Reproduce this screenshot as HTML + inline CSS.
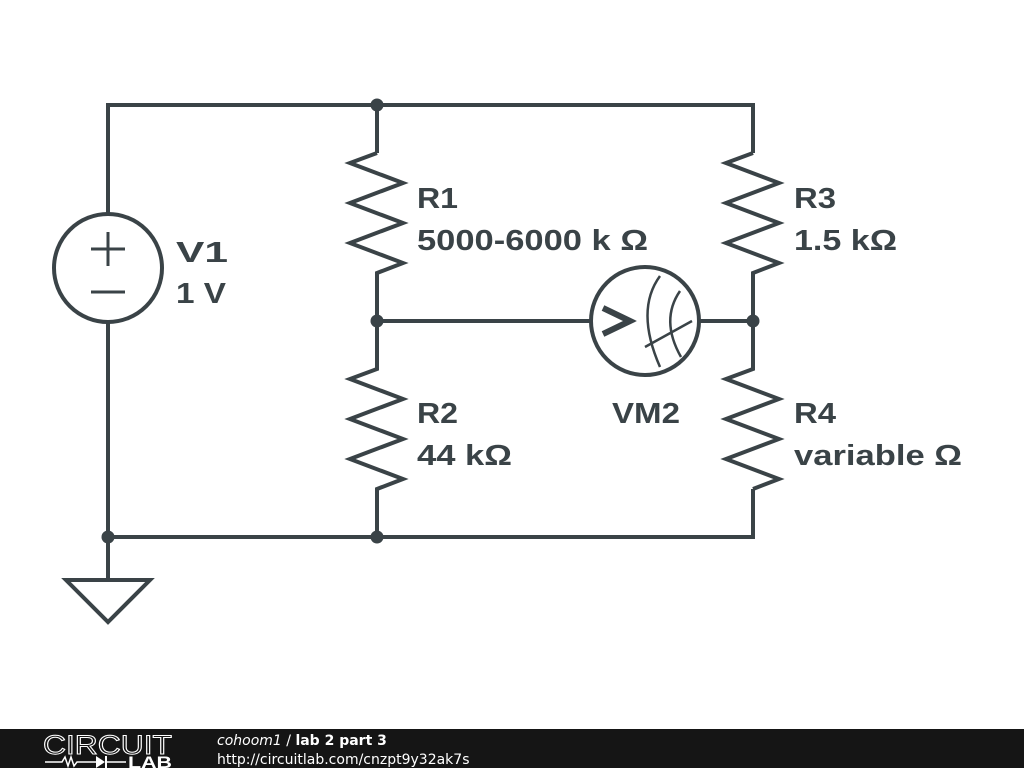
<!DOCTYPE html>
<html><head><style>
body{margin:0;background:#fff;}
svg{display:block;}
.t{font-family:"Liberation Sans",Arial,sans-serif;font-weight:bold;font-size:29px;fill:#3a4347;}
</style></head><body>
<svg width="1024" height="768" viewBox="0 0 1024 768">
<g stroke="#3a4347" stroke-width="4" fill="none" stroke-linejoin="miter">
<polyline points="108,214 108,105 753,105 753,153"/>
<polyline points="108,322 108,580"/>
<polyline points="108,537 753,537 753,489"/>
<line x1="377" y1="105" x2="377" y2="153"/>
<polyline points="377,153 350,163 403,183 350,203 403,223 350,243 403,263 377,273 377,369 350,379 403,399 350,419 403,439 350,459 403,479 377,489 377,537"/>
<polyline points="753,153 726,163 779,183 726,203 779,223 726,243 779,263 753,273 753,369 726,379 779,399 726,419 779,439 726,459 779,479 753,489"/>
<line x1="377" y1="321" x2="591" y2="321"/>
<line x1="699" y1="321" x2="753" y2="321"/>
<circle cx="108" cy="268" r="54"/>
<line x1="91" y1="249" x2="125" y2="249" stroke-width="3"/>
<line x1="108" y1="232" x2="108" y2="266" stroke-width="3"/>
<line x1="91" y1="292" x2="125" y2="292" stroke-width="3"/>
<polygon points="66,580 150,580 108,622"/>
<circle cx="645" cy="321" r="54"/>
<polyline points="603,308 630,321 603,334" stroke-width="6"/>
<path d="M660,276 Q635,310 660,367" stroke-width="2.5"/>
<path d="M680,291 Q660,320 681,357" stroke-width="2.5"/>
<line x1="645" y1="347" x2="692" y2="321" stroke-width="2.5"/>
</g>
<g fill="#3a4347">
<circle cx="377" cy="105" r="6.5"/>
<circle cx="377" cy="321" r="6.5"/>
<circle cx="753" cy="321" r="6.5"/>
<circle cx="377" cy="537" r="6.5"/>
<circle cx="108" cy="537" r="6.5"/>
</g>
<text class="t" x="176" y="262" textLength="52" lengthAdjust="spacingAndGlyphs">V1</text>
<text class="t" x="176" y="303" textLength="50" lengthAdjust="spacingAndGlyphs">1 V</text>
<text class="t" x="417" y="208" textLength="41" lengthAdjust="spacingAndGlyphs">R1</text>
<text class="t" x="417" y="250" textLength="231" lengthAdjust="spacingAndGlyphs">5000-6000 k Ω</text>
<text class="t" x="794" y="208" textLength="42" lengthAdjust="spacingAndGlyphs">R3</text>
<text class="t" x="794" y="250" textLength="103" lengthAdjust="spacingAndGlyphs">1.5 kΩ</text>
<text class="t" x="417" y="423" textLength="41" lengthAdjust="spacingAndGlyphs">R2</text>
<text class="t" x="417" y="465" textLength="95" lengthAdjust="spacingAndGlyphs">44 kΩ</text>
<text class="t" x="612" y="423" textLength="68" lengthAdjust="spacingAndGlyphs">VM2</text>
<text class="t" x="794" y="423" textLength="42" lengthAdjust="spacingAndGlyphs">R4</text>
<text class="t" x="794" y="465" textLength="168" lengthAdjust="spacingAndGlyphs">variable Ω</text>
<rect x="0" y="729" width="1024" height="39" fill="#151515"/>
<text x="43" y="754" font-family="Liberation Sans,sans-serif" font-size="27" fill="none" stroke="#fff" stroke-width="1" textLength="129" lengthAdjust="spacingAndGlyphs">CIRCUIT</text>
<polyline points="45,762 62,762 65,757 68,766 71,757 74,766 77,762 96,762" stroke="#fff" stroke-width="1.5" fill="none"/>
<polygon points="96,756 96,768 105,762" fill="#fff"/>
<line x1="106" y1="756" x2="106" y2="768" stroke="#fff" stroke-width="2"/>
<line x1="106" y1="762" x2="126" y2="762" stroke="#fff" stroke-width="1.5"/>
<text x="128" y="768" font-family="Liberation Sans,sans-serif" font-weight="bold" font-size="17" fill="#fff" textLength="44" lengthAdjust="spacingAndGlyphs">LAB</text>
<text x="217" y="745" font-family="DejaVu Sans,sans-serif" font-size="14" fill="#fff"><tspan font-style="italic">cohoom1</tspan> / <tspan font-weight="bold">lab 2 part 3</tspan></text>
<text x="217" y="764" font-family="DejaVu Sans,sans-serif" font-size="14" fill="#fff">http://circuitlab.com/cnzpt9y32ak7s</text>
</svg>
</body></html>
